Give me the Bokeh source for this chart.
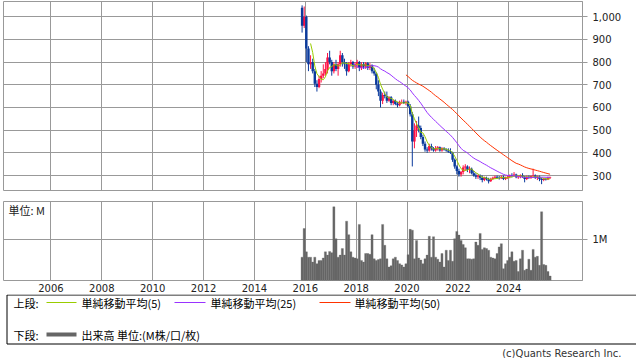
import numpy as np
import pandas as pd
from bokeh.plotting import figure
from bokeh.models import Range1d, FixedTicker, NumeralTickFormatter, ColumnDataSource
from bokeh.layouts import column
from bokeh.embed import file_html
from bokeh.resources import INLINE
from bokeh.core.properties import value

# ---------------- data (monthly, 2015-11 .. 2025-08) ----------------
start_month = "2015-11"
opens = [1040, 960,
         1000, 860, 790, 800, 760, 705, 690, 725, 740, 750, 770, 820,
         800, 760, 790, 770, 790, 830, 800, 790, 760, 790, 800, 780,
         790, 800, 775, 790, 780, 795, 775, 785, 760, 750, 700, 670,
         630, 655, 650, 630, 645, 620, 630, 615, 610, 625, 625, 620,
         625, 605, 570, 450, 500, 520, 510, 470, 440, 415, 410, 430,
         420, 410, 420, 425, 410, 420, 415, 410, 405, 400, 370, 340,
         320, 305, 315, 335, 340, 325, 330, 310, 300, 295, 300, 290,
         280, 290, 285, 275, 285, 290, 295, 290, 288, 295, 285, 290,
         295, 300, 298, 305, 292, 296, 300, 295, 285, 295, 290, 298,
         300, 290, 295, 285, 280, 285, 282, 290]
highs = [1050, 1045,
         1005, 870, 830, 815, 770, 720, 740, 760, 790, 800, 840, 850,
         810, 800, 810, 800, 850, 840, 815, 800, 800, 810, 805, 800,
         810, 805, 800, 800, 800, 800, 795, 790, 775, 755, 720, 680,
         665, 670, 670, 650, 650, 635, 635, 625, 630, 635, 635, 630,
         630, 615, 580, 530, 540, 560, 520, 480, 450, 425, 440, 440,
         425, 430, 430, 428, 425, 425, 420, 420, 420, 405, 375, 345,
         330, 320, 345, 350, 345, 340, 335, 320, 310, 305, 305, 300,
         295, 295, 290, 290, 295, 300, 300, 298, 300, 300, 295, 300,
         305, 310, 315, 308, 300, 305, 310, 298, 300, 300, 300, 330,
         305, 300, 300, 290, 290, 290, 295, 295]
lows = [930, 950,
        800, 760, 770, 750, 690, 670, 685, 710, 730, 740, 750, 790,
        740, 750, 760, 740, 780, 780, 770, 740, 755, 780, 770, 770,
        775, 760, 765, 770, 770, 765, 765, 750, 740, 680, 650, 600,
        615, 640, 620, 625, 610, 610, 610, 600, 605, 615, 615, 610,
        600, 560, 340, 420, 470, 490, 460, 430, 405, 400, 405, 410,
        405, 405, 410, 405, 405, 410, 405, 400, 395, 360, 330, 305,
        295, 295, 305, 320, 315, 310, 305, 295, 285, 285, 280, 270,
        275, 278, 265, 272, 280, 285, 285, 282, 285, 280, 280, 285,
        288, 292, 295, 288, 285, 288, 290, 270, 280, 285, 285, 290,
        285, 280, 275, 262, 275, 278, 280, 285]
closes = [960, 1000,
          860, 790, 800, 760, 705, 690, 725, 740, 750, 770, 820, 800,
          760, 790, 770, 790, 830, 800, 790, 760, 790, 800, 780, 790,
          800, 775, 790, 780, 795, 775, 785, 760, 750, 700, 670, 630,
          655, 650, 630, 645, 620, 630, 615, 610, 625, 625, 620, 625,
          605, 570, 450, 500, 520, 510, 470, 440, 415, 410, 430, 420,
          410, 420, 425, 410, 420, 415, 410, 405, 400, 370, 340, 320,
          305, 315, 335, 340, 325, 330, 310, 300, 295, 300, 290, 280,
          290, 285, 275, 285, 290, 295, 290, 288, 295, 285, 290, 295,
          300, 298, 305, 292, 296, 300, 295, 285, 295, 290, 298, 300,
          290, 295, 285, 280, 285, 282, 290, 292]
# volume in millions of shares
volumes = [0.57, 1.27,
           0.70, 0.57, 0.57, 0.45, 0.57, 0.41, 0.49, 0.49, 0.55, 0.70, 0.62, 0.71,
           0.68, 1.80, 1.02, 0.57, 0.62, 0.78, 0.62, 1.45, 1.12, 0.70, 0.57, 0.55,
           0.53, 1.37, 0.49, 0.45, 0.66, 0.66, 0.64, 1.12, 0.53, 0.49, 0.51, 0.53,
           1.37, 0.86, 0.53, 0.33, 0.36, 0.53, 0.57, 0.49, 0.41, 0.38, 0.33, 0.41,
           0.63, 1.25, 1.23, 0.53, 0.98, 0.55, 0.50, 0.41, 0.53, 0.62, 1.08, 0.57,
           1.07, 0.57, 0.52, 0.45, 0.66, 0.33, 0.74, 0.49, 0.74, 0.47, 1.02, 1.20,
           1.11, 0.98, 0.88, 0.80, 0.53, 0.53, 0.52, 0.53, 0.94, 0.86, 1.15, 0.76,
           0.80, 0.78, 0.74, 0.57, 0.55, 0.53, 0.66, 0.82, 0.90, 0.29, 0.41, 0.49,
           0.57, 0.70, 0.47, 0.49, 0.22, 0.53, 0.74, 0.25, 0.28, 0.52, 0.25, 0.76,
           0.57, 0.59, 0.37, 1.68, 0.39, 0.37, 0.22, 0.11]
year_ticks = [2006, 2008, 2010, 2012, 2014, 2016, 2018, 2020, 2022, 2024]
price_ticks = [300, 400, 500, 600, 700, 800, 900, 1000]
volume_ticks = [1]
ma_periods = [5, 25, 50]
ma_colors = ["#99cc00", "#9933ff", "#ff3300"]
legend_upper = ["単純移動平均(5)", "単純移動平均(25)", "単純移動平均(50)"]

# ---------------- derived ----------------
n = len(closes)
periods = pd.period_range(start_month, periods=n, freq="M")
xs = np.array([p.year + (p.month - 0.5) / 12.0 for p in periods])
o = np.array(opens, float); h = np.array(highs, float)
l = np.array(lows, float); c = np.array(closes, float)
up = c >= o

X0, X1 = 2004.135, 2026.9
GRID = "#999999"
FONT = "DejaVu Sans"
JFONT = "Noto Sans CJK JP"
UP_C = "#ff1144"
DN_C = "#0a3a9c"

# ---------------- top panel ----------------
p1 = figure(frame_width=579, frame_height=189, x_range=Range1d(X0, X1),
            y_range=Range1d(234, 1067), output_backend="svg",
            toolbar_location=None, x_axis_location=None, y_axis_location="right",
            min_border_left=3, min_border_top=1, min_border_bottom=11,
            min_border_right=0)
p1.outline_line_color = GRID
p1.xgrid.ticker = FixedTicker(ticks=year_ticks)
p1.ygrid.ticker = FixedTicker(ticks=price_ticks)
for g in (p1.xgrid, p1.ygrid):
    g.grid_line_color = GRID
    g.grid_line_width = 1
ya = p1.yaxis[0]
ya.ticker = FixedTicker(ticks=price_ticks)
ya.formatter = NumeralTickFormatter(format="0,0")

for mask, col in ((up, UP_C), (~up, DN_C)):
    src = ColumnDataSource(dict(x=xs[mask], h=h[mask], l=l[mask],
                                top=np.maximum(o, c)[mask],
                                bot=np.minimum(o, c)[mask]))
    p1.segment(x0="x", x1="x", y0="l", y1="h", source=src, line_color=col,
               line_width=1)
    p1.vbar(x="x", width=0.095, top="top", bottom="bot", source=src,
            fill_color=col, line_color=None)

cs = pd.Series(c)
for per, col in zip(ma_periods, ma_colors):
    ma = cs.rolling(per).mean().to_numpy()
    ok = ~np.isnan(ma)
    p1.line(xs[ok], ma[ok], line_color=col, line_width=1)

# ---------------- volume panel ----------------
p2 = figure(frame_width=579, frame_height=79, x_range=p1.x_range,
            y_range=Range1d(0, 1.93), output_backend="svg",
            toolbar_location=None, x_axis_location="below",
            y_axis_location="right", min_border_left=3, min_border_top=0,
            min_border_bottom=0, min_border_right=0)
p2.outline_line_color = GRID
p2.xgrid.ticker = FixedTicker(ticks=year_ticks)
p2.ygrid.ticker = FixedTicker(ticks=volume_ticks)
for g in (p2.xgrid, p2.ygrid):
    g.grid_line_color = GRID
    g.grid_line_width = 1
p2.vbar(x=xs, width=1 / 12.0, top=volumes, bottom=0, fill_color="#666666",
        line_color="#666666", line_width=0.3)
va = p2.yaxis[0]
va.ticker = FixedTicker(ticks=volume_ticks)
va.major_label_overrides = {1: "1M"}
xa = p2.xaxis[0]
xa.ticker = FixedTicker(ticks=year_ticks)
xa.major_tick_out = 0
xa.major_tick_in = 0
xa.axis_line_color = None
xa.major_label_standoff = 3
p2.text(x=[X0 + 0.2], y=[1.72], text=["単位: M"], text_font=value(JFONT),
        text_font_size="11px", text_baseline="middle", text_color="#222222")

for ax in (ya, va, xa):
    ax.minor_tick_line_color = None
    ax.major_label_text_font = FONT
    ax.major_label_text_font_size = "10px"
    ax.major_label_text_color = "#222222"
for ax in (ya, va):
    ax.axis_line_color = GRID
    ax.major_tick_line_color = GRID
    ax.major_tick_out = 5
    ax.major_tick_in = 0
    ax.major_label_standoff = 5

# ---------------- legend area ----------------
p3 = figure(frame_width=636, frame_height=64, x_range=Range1d(0, 636),
            y_range=Range1d(64, 0), output_backend="svg",
            toolbar_location=None, x_axis_location=None, y_axis_location=None,
            min_border=0)
p3.outline_line_color = None
p3.xgrid.visible = False
p3.ygrid.visible = False
p3.quad(left=[3.5], right=[635.5], top=[0.5], bottom=[49.5], fill_alpha=0,
        line_color="black", line_width=1)
row1, row2 = 8, 40
line_x = [(43, 73), (171, 202), (316, 347)]
text_x = [78, 207, 351]
p3.text(x=[10], y=[row1], text=["上段:"], text_font=value(JFONT),
        text_font_size="11px", text_baseline="middle")
for (a, b), tx, col, lab in zip(line_x, text_x, ma_colors, legend_upper):
    p3.segment(x0=[a], x1=[b], y0=[row1], y1=[row1], line_color=col,
               line_width=1)
    p3.text(x=[tx], y=[row1], text=[lab], text_font=value(JFONT),
            text_font_size="11px", text_baseline="middle")
p3.text(x=[10], y=[row2], text=["下段:"], text_font=value(JFONT),
        text_font_size="11px", text_baseline="middle")
p3.segment(x0=[43], x1=[73], y0=[row2], y1=[row2], line_color="#666666",
           line_width=4)
p3.text(x=[78], y=[row2], text=["出来高 単位:(M株/口/枚)"], text_font=value(JFONT),
        text_font_size="11px", text_baseline="middle")
p3.text(x=[618], y=[59], text=["(c)Quants Research Inc."], text_font=value(FONT),
        text_font_size="10px", text_baseline="middle", text_align="right",
        text_color="#333333")

layout = column(p1, p2, p3)
open("out.html", "w").write(file_html(layout, INLINE))
